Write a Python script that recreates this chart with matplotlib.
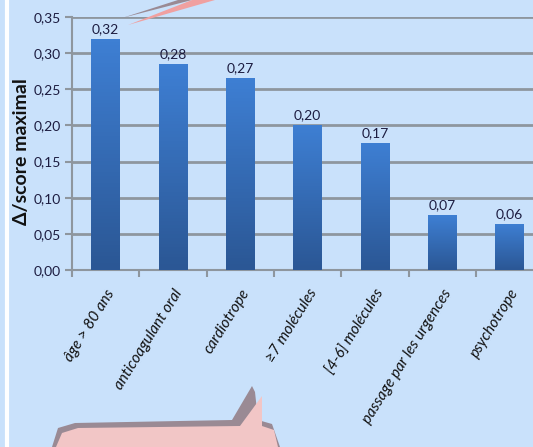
import numpy as np
import matplotlib.pyplot as plt
from matplotlib.patches import Polygon

plt.rcParams['font.family'] = ['Lato', 'Open Sans', 'DejaVu Sans']

categories = ["âge > 80 ans", "anticoagulant oral", "cardiotrope", "≥7 molécules",
              "[4-6] molécules", "passage par les urgences", "psychotrope"]
values = [0.320, 0.285, 0.266, 0.201, 0.176, 0.076, 0.064]
value_labels = ["0,32", "0,28", "0,27", "0,20", "0,17", "0,07", "0,06"]
yticks = [0.00, 0.05, 0.10, 0.15, 0.20, 0.25, 0.30, 0.35]

bg = "#c9e1fb"
text_col = "#1c1c40"
grid_col = "#8e969e"

fig = plt.figure(figsize=(5.33, 4.47), dpi=100, facecolor=bg)
W, H = 533.0, 447.0

def px(pts):
    # pixel coords (from top-left) -> figure fraction
    return [[a / W, 1 - b / H] for a, b in pts]

# decorative slide bits: white stripe on the left, callout shapes
fig.add_artist(plt.Line2D([0.013, 0.013], [0, 1], color="white", lw=3, transform=fig.transFigure))
fig.add_artist(Polygon(px([[52, 447], [58, 428], [75, 423], [232, 420], [252, 386], [255, 392], [258, 420],
                           [272, 424], [280, 447]]),
                       closed=True, facecolor="#9a8a94", edgecolor="none", transform=fig.transFigure))
fig.add_artist(Polygon(px([[56, 447], [62, 433], [78, 428], [240, 426], [262, 396], [262, 426],
                           [274, 430], [278, 447]]),
                       closed=True, facecolor="#f2c6c6", edgecolor="none", transform=fig.transFigure))
fig.add_artist(Polygon(px([[122, 18], [178, 0], [192, 0]]), closed=True,
                       facecolor="#9a8a94", edgecolor="none", transform=fig.transFigure))
fig.add_artist(Polygon(px([[128, 25], [192, 0], [215, 0]]), closed=True,
                       facecolor="#f0a0a0", edgecolor="none", transform=fig.transFigure))

ax = fig.add_axes([0.135, 0.396, 0.884, 0.566])
ax.set_facecolor(bg)

x = np.arange(len(categories))
bars = ax.bar(x, values, width=0.42, color="#3a74c4", zorder=3)

# vertical gradient on each bar
grad = np.linspace(0, 1, 64).reshape(-1, 1)
cmap = plt.matplotlib.colors.LinearSegmentedColormap.from_list("b", ["#2b5795", "#3e7fd3"])
for b in bars:
    x0, w, h = b.get_x(), b.get_width(), b.get_height()
    im = ax.imshow(grad, extent=[x0, x0 + w, 0, h], origin="lower", aspect="auto",
                   cmap=cmap, zorder=4)
    im.set_clip_path(b)

for xi, v, lab in zip(x, values, value_labels):
    ax.text(xi, v + 0.005, lab, ha="center", va="bottom", fontsize=10, color=text_col)

ax.set_xlim(-0.5, len(categories) - 0.5)
ax.set_ylim(0, 0.35)
ax.set_yticks(yticks)
ax.set_yticklabels([f"{t:.2f}".replace(".", ",") for t in yticks], fontsize=10, color=text_col)
ax.set_xticks(np.arange(len(categories) + 1) - 0.5, minor=False)
ax.set_xticklabels([])
ax.set_xticks(x, minor=True)
ax.set_xticklabels(categories, minor=True, rotation=58, ha="right", va="top",
                   rotation_mode="anchor", fontsize=11, style="italic", color="#111111")
ax.tick_params(axis="x", which="minor", length=0, pad=12)
ax.tick_params(axis="x", which="major", length=5, color=grid_col, width=1.5)
ax.tick_params(axis="y", length=5, color=grid_col, width=1.5, pad=3)

ax.yaxis.grid(True, color=grid_col, lw=2, zorder=0)
ax.set_axisbelow(True)
for s in ["top", "right"]:
    ax.spines[s].set_visible(False)
for s in ["left", "bottom"]:
    ax.spines[s].set_color(grid_col)
    ax.spines[s].set_linewidth(1.5)

ax.set_ylabel("Δ/score maximal", fontsize=14, fontweight="bold", color="#111111")
ax.yaxis.set_label_coords(-0.088, 0.47)

fig.savefig("out.png", dpi=100, facecolor=bg)
